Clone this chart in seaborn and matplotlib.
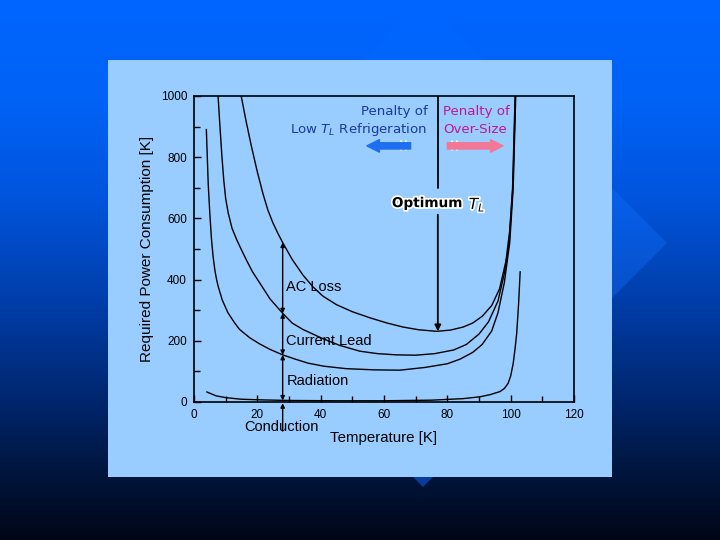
import numpy as np
import matplotlib
matplotlib.use("Agg")
import matplotlib.pyplot as plt
import matplotlib.patches as patches
import matplotlib.patheffects as pe
import seaborn as sns

# readings: temperature [K] vs required power
rad_t = [3.9, 4.2, 4.5, 5.0, 5.5, 6.0, 6.6, 7.1, 7.6, 8.9, 10.7, 12.8, 14.4, 17.6,
         20.7, 24.0, 28.0, 32.0, 36.0, 41.0, 48.0, 57.0, 65.0, 73.0, 80.0, 84.0,
         88.0, 91.0, 94.0, 96.0, 98.0, 99.7, 100.8, 101.6]
rad_p = [891, 800, 710, 615, 535, 478, 430, 402, 379, 334, 292, 259, 237, 210,
         190, 172, 154, 140, 127, 117, 109, 105, 104, 113, 125, 140,
         162, 188, 232, 292, 390, 520, 700, 1000]

lead_t = [7.6, 8.2, 8.8, 9.4, 10.0, 10.8, 12.0, 13.5, 15.0, 16.5, 18.5, 20.7, 24.0,
          28.0, 31.0, 34.4, 40.7, 46.0, 52.4, 58.0, 64.0, 70.0, 76.0, 82.0, 86.0,
          90.0, 93.0, 96.0, 98.0, 99.5, 100.7, 101.5]
lead_p = [1000, 900, 805, 725, 665, 618, 568, 530, 497, 465, 425, 390, 337,
          290, 258, 237, 207, 185, 166, 158, 154, 153, 158, 170, 188,
          222, 262, 330, 420, 520, 700, 1000]

ac_t = [14.9, 16.5, 18.1, 20.0, 21.8, 23.3, 24.9, 26.5, 28.0, 31.0, 34.4, 37.5, 40.7,
        45.0, 50.0, 55.6, 61.0, 66.0, 71.0, 76.6, 81.0, 85.0, 88.0, 91.0, 94.0,
        96.5, 98.5, 99.7, 100.6, 101.4]
ac_p = [1000, 915, 837, 752, 680, 628, 586, 551, 521, 466, 415, 377, 346,
        318, 295, 275, 258, 245, 236, 231, 235, 245, 258, 280, 315,
        370, 460, 560, 700, 1000]

cond_t = [4.0, 7.0, 10.2, 15.0, 21.0, 30.0, 45.0, 60.0, 75.0, 85.0, 90.3, 93.5, 96.6,
          98.0, 99.2, 100.0, 100.8, 101.4, 101.9, 102.5, 103.0]
cond_p = [33, 20, 14, 9, 7, 5, 4, 4, 6, 11, 17, 24, 34,
          44, 61, 85, 126, 175, 224, 320, 426]

t_optimum = 77
p_optimum = 231
t_marker = 28
stack_levels = [5, 154, 290, 521]
stack_names = ["Radiation", "Current Lead", "AC Loss"]
stack_label_p = [69, 199, 376]

sns.set_theme(style="white")
plt.rcParams['font.family'] = ['Liberation Sans', 'DejaVu Sans']

fig = plt.figure(figsize=(7.2, 5.4), dpi=100)

# slide background: blue-to-black gradient with a faint diamond
bg = fig.add_axes([0, 0, 1, 1], zorder=-10)
bg.axis("off")
rows = np.arange(540)
stop_y = [0, 100, 200, 300, 400, 470, 540]
stop_c = np.array([[0, 102, 255], [0, 98, 246], [0, 84, 220], [0, 62, 170],
                   [0, 38, 110], [0, 22, 62], [0, 6, 22]]) / 255
stop_l = np.array([[0, 102, 255], [2, 101, 252], [6, 94, 232], [8, 80, 200],
                   [10, 68, 172], [10, 62, 158], [10, 50, 130]]) / 255
grad = np.stack([np.interp(rows, stop_y, stop_c[:, k]) for k in range(3)], axis=1)
grad_l = np.stack([np.interp(rows, stop_y, stop_l[:, k]) for k in range(3)], axis=1)
bg.imshow(np.repeat(grad[:, None, :], 2, axis=1), extent=[0, 720, 540, 0],
          aspect="auto", interpolation="bilinear")
diamond = patches.Polygon([(423, -1), (667, 243), (423, 487), (179, 243)],
                          closed=True, facecolor="none", edgecolor="none")
bg.add_patch(diamond)
im2 = bg.imshow(np.repeat(grad_l[:, None, :], 2, axis=1), extent=[0, 720, 540, 0],
                aspect="auto", interpolation="bilinear")
im2.set_clip_path(diamond)
bg.add_patch(patches.Rectangle((108, 60), 504, 417, facecolor="#99ccff",
                               edgecolor="none", zorder=5))
bg.set_xlim(0, 720)
bg.set_ylim(540, 0)

# chart
ax = fig.add_axes([194 / 720, 1 - 402 / 540, 380 / 720, 306 / 540])
ax.set_facecolor("none")

for t, p in [(cond_t, cond_p), (rad_t, rad_p), (lead_t, lead_p), (ac_t, ac_p)]:
    sns.lineplot(x=t, y=p, ax=ax, color="black", linewidth=1.0,
                 sort=False, estimator=None)

ax.set_xlim(0, 120)
ax.set_ylim(0, 1000)
ax.set_xticks(np.arange(0, 121, 20))
ax.set_xticks(np.arange(0, 121, 10), minor=True)
ax.set_yticks(np.arange(0, 1001, 200))
ax.set_yticks(np.arange(0, 1001, 100), minor=True)
ax.tick_params(which="both", direction="in", bottom=True, left=True,
               top=False, right=False, width=1, colors="black")
ax.tick_params(which="major", length=5, labelsize=8.5, pad=5)
ax.tick_params(which="minor", length=4)
for s in ax.spines.values():
    s.set_color("black")
    s.set_linewidth(1.2)

ax.set_xlabel("Temperature [K]", fontsize=10.8, labelpad=7, color="black")
ax.set_ylabel("Required Power Consumption [K]", fontsize=11, labelpad=5,
              color="black")

# optimum marker
ax.plot([t_optimum, t_optimum], [1000, 700], color="black", lw=1.3)
ax.annotate("", xy=(t_optimum, p_optimum), xytext=(t_optimum, 612),
            arrowprops=dict(arrowstyle="-|>", color="black", lw=1.3,
                            mutation_scale=9, shrinkA=0, shrinkB=0))
halo = [pe.withStroke(linewidth=2.5, foreground="white")]
ax.text(73.6, 650, "Optimum", fontsize=9.8, fontweight="bold", ha="center",
        va="center", color="black", family="DejaVu Sans", path_effects=halo)
ax.text(89.4, 646, r"$\mathit{T_L}$", fontsize=11, ha="center", va="center",
        color="black", path_effects=halo)

# penalty notes
pen_kw = dict(fontsize=9.6, va="center", family="DejaVu Sans")
ax.text(73.8, 950, "Penalty of", ha="right", color="#1a3a9c", **pen_kw)
ax.text(73.8, 890, r"Low $\mathit{T_L}$ Refrigeration", ha="right",
        color="#1a3a9c", **pen_kw)
ax.text(78.6, 950, "Penalty of", ha="left", color="#c01890", **pen_kw)
ax.text(78.6, 890, "Over-Size", ha="left", color="#c01890", **pen_kw)

ax.annotate("", xy=(54.6, 837), xytext=(68.4, 837),
            arrowprops=dict(arrowstyle="simple,head_width=0.9,head_length=0.9,tail_width=0.45",
                            color="#1e6ef0", shrinkA=0, shrinkB=0, mutation_scale=10))
ax.annotate("", xy=(97.6, 837), xytext=(80.0, 837),
            arrowprops=dict(arrowstyle="simple,head_width=0.9,head_length=0.9,tail_width=0.45",
                            color="#f27896", shrinkA=0, shrinkB=0, mutation_scale=10))
for tx in [65.4, 66.9, 81.5, 83.0]:
    ax.plot([tx, tx], [822, 852], color="white", lw=1.2)

# stacked contribution arrows
for lo, hi, name, lp in zip(stack_levels[:-1], stack_levels[1:], stack_names,
                            stack_label_p):
    ax.annotate("", xy=(t_marker, hi), xytext=(t_marker, lo),
                arrowprops=dict(arrowstyle="<|-|>", color="black", lw=1.0,
                                mutation_scale=6, shrinkA=0, shrinkB=0))
    ax.text(t_marker + 1.2, lp, name, fontsize=10.5, ha="left", va="center",
            color="black")
ax.annotate("", xy=(t_marker, -4), xytext=(t_marker, -95),
            arrowprops=dict(arrowstyle="-|>", color="black", lw=1.0,
                            mutation_scale=6, shrinkA=0, shrinkB=0),
            annotation_clip=False)
ax.text(t_marker - 0.5, -82, "Conduction", fontsize=10.5, ha="center",
        va="center", color="black", clip_on=False)

fig.savefig("out.png", dpi=100)
